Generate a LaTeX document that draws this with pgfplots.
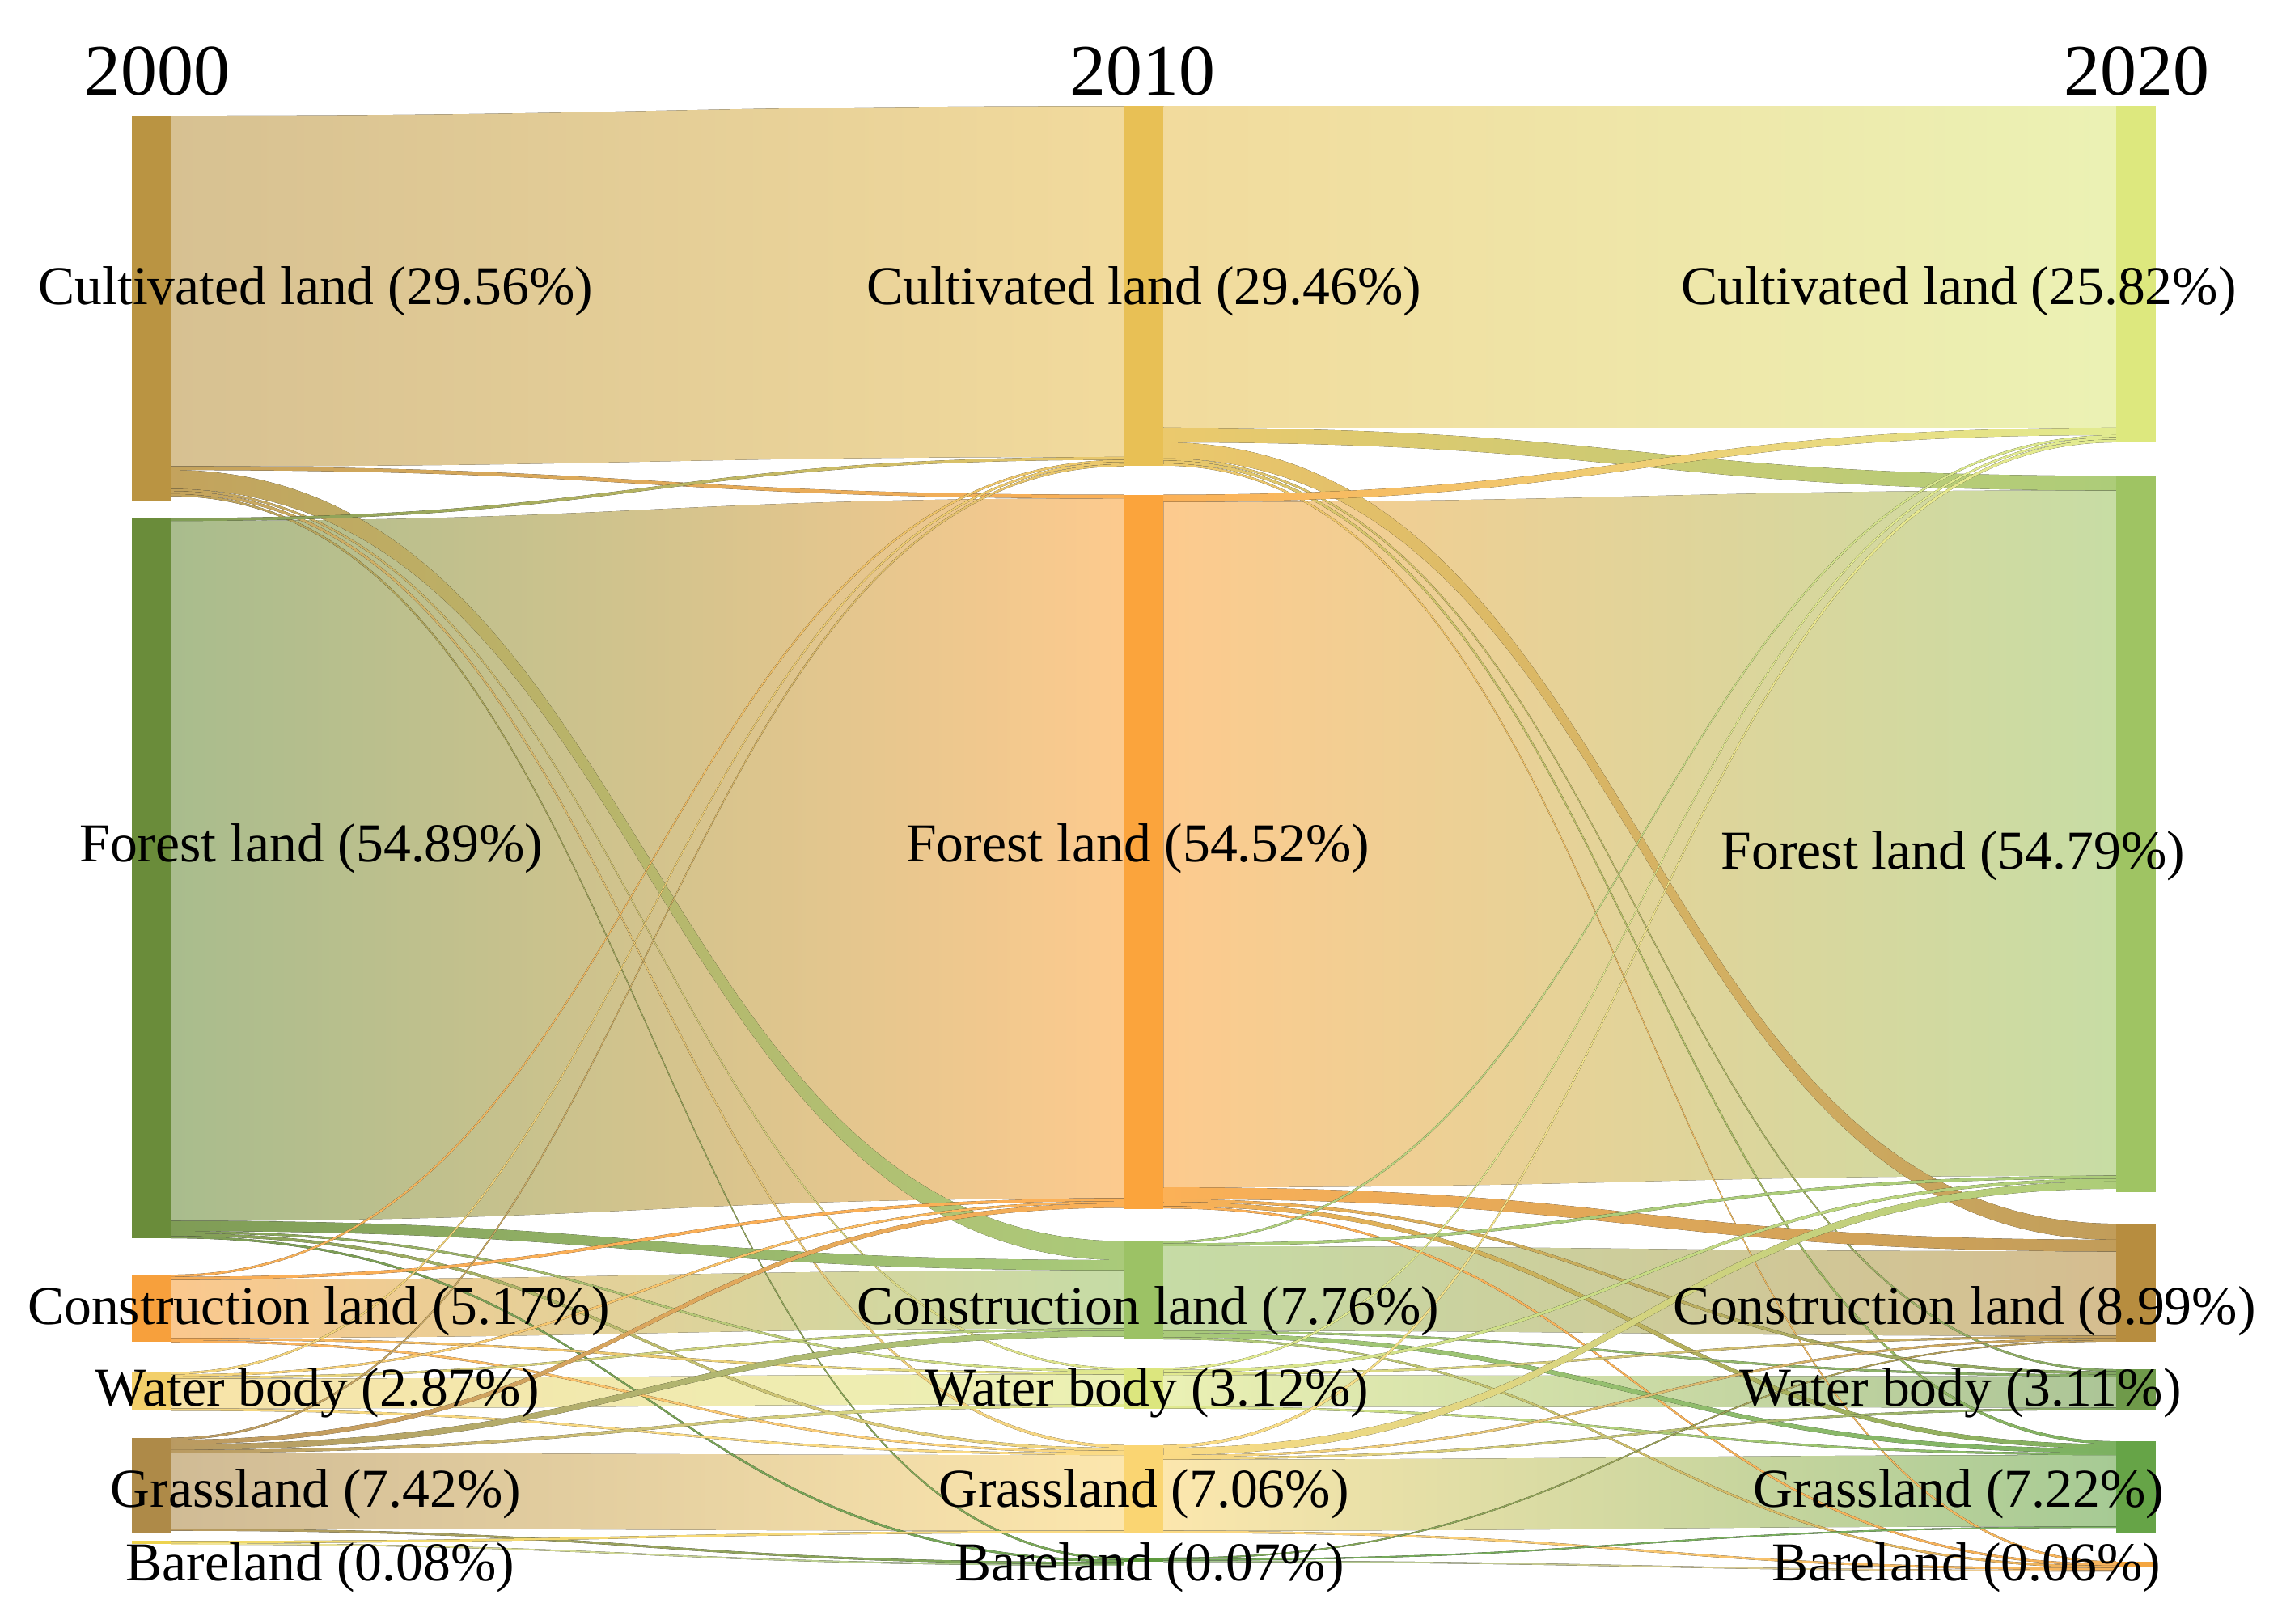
\documentclass[border=0pt]{standalone}
\usepackage{fontspec}
\setmainfont{Liberation Serif}
\usepackage{pgfplots}
\pgfplotsset{compat=1.18}

% bar colours: c<year index><class>, 0=2000 1=2010 2=2020
% C cultivated, F forest, K construction, W water, G grassland, B bareland
\definecolor{c0C}{HTML}{BA9442}
\definecolor{c0F}{HTML}{6A8C3A}
\definecolor{c0K}{HTML}{F7A03C}
\definecolor{c0W}{HTML}{F2CF6A}
\definecolor{c0G}{HTML}{AE8A48}
\definecolor{c0B}{HTML}{EDD34E}
\definecolor{c1C}{HTML}{E8C055}
\definecolor{c1F}{HTML}{FBA43C}
\definecolor{c1K}{HTML}{9CC265}
\definecolor{c1W}{HTML}{DCE67E}
\definecolor{c1G}{HTML}{FAD572}
\definecolor{c1B}{HTML}{5D9A3D}
\definecolor{c2C}{HTML}{DDE87E}
\definecolor{c2F}{HTML}{9FC463}
\definecolor{c2K}{HTML}{B78D3F}
\definecolor{c2W}{HTML}{6F9A4A}
\definecolor{c2G}{HTML}{66A447}
\definecolor{c2B}{HTML}{F4A640}

% column: index, left edge, right edge of the bars
\newcommand\col[3]{\expandafter\xdef\csname xl#1\endcsname{#2}%
  \expandafter\xdef\csname xr#1\endcsname{#3}}
% node: year index, class, top, bottom (picture units, y downwards)
\newcommand\setnode[4]{%
  \expandafter\xdef\csname top#1#2\endcsname{#3}%
  \expandafter\xdef\csname bot#1#2\endcsname{#4}%
  \expandafter\xdef\csname out#1#2\endcsname{0}%
  \expandafter\xdef\csname in#1#2\endcsname{0}}

\col{0}{90.5}{117.5}
\col{1}{772.5}{799.5}
\col{2}{1454}{1481}

\setnode{0}{C}{79.5}{344.7}
\setnode{0}{F}{356}{851}
\setnode{0}{K}{876}{922}
\setnode{0}{W}{943}{969}
\setnode{0}{G}{988}{1054}
\setnode{0}{B}{1059}{1061}
\setnode{1}{C}{73}{320}
\setnode{1}{F}{340}{831}
\setnode{1}{K}{853}{920}
\setnode{1}{W}{940}{968}
\setnode{1}{G}{993}{1053}
\setnode{1}{B}{1070.5}{1073.5}
\setnode{2}{C}{73}{304}
\setnode{2}{F}{327}{819.5}
\setnode{2}{K}{841}{922}
\setnode{2}{W}{941}{969}
\setnode{2}{G}{990.5}{1054}
\setnode{2}{B}{1073}{1077}

% flows are stacked in call order, drawn later: unchanged classes first
\gdef\selflist{}\gdef\crosslist{}
% flow: stage (source year index), source class, target class, width
\newcommand\flow[4]{%
  \pgfmathtruncatemacro\tn{#1+1}%
  \pgfmathsetmacro\ya{\csname top#1#2\endcsname+\csname out#1#2\endcsname}%
  \pgfmathsetmacro\yb{\csname top\tn#3\endcsname+\csname in\tn#3\endcsname}%
  \pgfmathsetmacro\yc{\ya+#4}%
  \pgfmathsetmacro\yd{\yb+#4}%
  \pgfmathsetmacro\tmp{\csname out#1#2\endcsname+#4}%
  \expandafter\xdef\csname out#1#2\endcsname{\tmp}%
  \pgfmathsetmacro\tmp{\csname in\tn#3\endcsname+#4}%
  \expandafter\xdef\csname in\tn#3\endcsname{\tmp}%
  \edef\xa{\csname xr#1\endcsname}\edef\xb{\csname xl\tn\endcsname}%
  \pgfmathsetmacro\xm{(\xa+\xb)/2}%
  \def\srcn{#2}\def\tgtn{#3}%
  \ifx\srcn\tgtn\def\mix{58}\else\def\mix{86}\fi
  \edef\cmd{\noexpand\fill[left color=c#1#2!\mix!white,right color=c\tn#3!\mix!white]
    (axis cs:\xa,\ya) .. controls (axis cs:\xm,\ya) and (axis cs:\xm,\yb) .. (axis cs:\xb,\yb)
    -- (axis cs:\xb,\yd) .. controls (axis cs:\xm,\yd) and (axis cs:\xm,\yc) .. (axis cs:\xa,\yc) -- cycle;}%
  \ifx\srcn\tgtn
    \xdef\selflist{\unexpanded\expandafter{\selflist}\unexpanded\expandafter{\cmd}}%
  \else
    \xdef\crosslist{\unexpanded\expandafter{\crosslist}\unexpanded\expandafter{\cmd}}%
  \fi}

\newcommand\nodebar[2]{%
  \edef\cmd{\noexpand\addplot[fill=c#1#2,draw=none,mark=none,forget plot] coordinates {
    (\csname xl#1\endcsname,\csname top#1#2\endcsname) (\csname xr#1\endcsname,\csname top#1#2\endcsname)
    (\csname xr#1\endcsname,\csname bot#1#2\endcsname) (\csname xl#1\endcsname,\csname bot#1#2\endcsname)};}%
  \cmd}

% 2000 -> 2010
\flow{0}{C}{C}{241}
\flow{0}{C}{F}{2.5}
\flow{0}{C}{K}{13}
\flow{0}{C}{W}{1.5}
\flow{0}{C}{G}{2}
\flow{0}{C}{B}{1.5}
\flow{0}{F}{C}{2}
\flow{0}{F}{F}{481}
\flow{0}{F}{K}{7}
\flow{0}{F}{W}{1.5}
\flow{0}{F}{G}{2}
\flow{0}{F}{B}{1.5}
\flow{0}{K}{C}{1.5}
\flow{0}{K}{F}{2}
\flow{0}{K}{K}{40}
\flow{0}{K}{W}{1.5}
\flow{0}{K}{G}{1.5}
\flow{0}{W}{C}{1.5}
\flow{0}{W}{F}{1.5}
\flow{0}{W}{K}{1.5}
\flow{0}{W}{W}{20.5}
\flow{0}{W}{G}{1.5}
\flow{0}{G}{C}{1.5}
\flow{0}{G}{F}{3}
\flow{0}{G}{K}{4}
\flow{0}{G}{W}{2}
\flow{0}{G}{G}{52}
\flow{0}{G}{B}{1.5}
\flow{0}{B}{G}{1.5}
\flow{0}{B}{B}{1}
% 2010 -> 2020
\flow{1}{C}{C}{221}
\flow{1}{C}{F}{10}
\flow{1}{C}{K}{11}
\flow{1}{C}{W}{1.5}
\flow{1}{C}{G}{2}
\flow{1}{C}{B}{1.5}
\flow{1}{F}{C}{5}
\flow{1}{F}{F}{471}
\flow{1}{F}{K}{8}
\flow{1}{F}{W}{2}
\flow{1}{F}{G}{3}
\flow{1}{F}{B}{1.5}
\flow{1}{K}{C}{1.5}
\flow{1}{K}{F}{2}
\flow{1}{K}{K}{58}
\flow{1}{K}{W}{1.5}
\flow{1}{K}{G}{3}
\flow{1}{K}{B}{1.5}
\flow{1}{W}{C}{1.5}
\flow{1}{W}{F}{2}
\flow{1}{W}{K}{1.5}
\flow{1}{W}{W}{21.5}
\flow{1}{W}{G}{1.5}
\flow{1}{G}{C}{2}
\flow{1}{G}{F}{5}
\flow{1}{G}{K}{1.5}
\flow{1}{G}{W}{1.5}
\flow{1}{G}{G}{49}
\flow{1}{G}{B}{1.5}
\flow{1}{B}{K}{1}
\flow{1}{B}{G}{1}
\flow{1}{B}{B}{1}

\begin{document}
\begin{tikzpicture}
\begin{axis}[
width=156.8mm,height=111.6mm,scale only axis,
xmin=0,xmax=1568,ymin=0,ymax=1116,y dir=reverse,
hide axis,clip=false
]
\selflist
\crosslist

% node bars
\nodebar{0}{C}\nodebar{0}{F}\nodebar{0}{K}\nodebar{0}{W}\nodebar{0}{G}\nodebar{0}{B}
\nodebar{1}{C}\nodebar{1}{F}\nodebar{1}{K}\nodebar{1}{W}\nodebar{1}{G}\nodebar{1}{B}
\nodebar{2}{C}\nodebar{2}{F}\nodebar{2}{K}\nodebar{2}{W}\nodebar{2}{G}\nodebar{2}{B}

% years
\begin{scope}[every node/.style={anchor=base,font=\fontsize{14.2}{16}\selectfont,inner sep=0pt}]
\node at (axis cs:108,65.5) {2000};
\node at (axis cs:785,65.5) {2010};
\node at (axis cs:1468,65.5) {2020};
\end{scope}

% labels
\begin{scope}[every node/.style={anchor=base,font=\fontsize{10.7}{12}\selectfont,inner sep=0pt}]
\node at (axis cs:217,209.5) {Cultivated land (29.56\%)};
\node at (axis cs:214,592) {Forest land (54.89\%)};
\node at (axis cs:219,910) {Construction land (5.17\%)};
\node at (axis cs:218,966.5) {Water body (2.87\%)};
\node at (axis cs:217,1036) {Grassland (7.42\%)};
\node at (axis cs:220,1086.5) {Bareland (0.08\%)};
\node at (axis cs:786,209.5) {Cultivated land (29.46\%)};
\node at (axis cs:782,592) {Forest land (54.52\%)};
\node at (axis cs:789,910) {Construction land (7.76\%)};
\node at (axis cs:788,966.5) {Water body (3.12\%)};
\node at (axis cs:786,1036) {Grassland (7.06\%)};
\node at (axis cs:790,1086.5) {Bareland (0.07\%)};
\node at (axis cs:1346,209.5) {Cultivated land (25.82\%)};
\node at (axis cs:1342,597) {Forest land (54.79\%)};
\node at (axis cs:1350,910) {Construction land (8.99\%)};
\node at (axis cs:1347,966.5) {Water body (3.11\%)};
\node at (axis cs:1346,1036) {Grassland (7.22\%)};
\node at (axis cs:1351,1086.5) {Bareland (0.06\%)};
\end{scope}
\end{axis}
\pgfresetboundingbox
\path (0,0) rectangle (156.8mm,111.6mm);
\end{tikzpicture}
\end{document}
